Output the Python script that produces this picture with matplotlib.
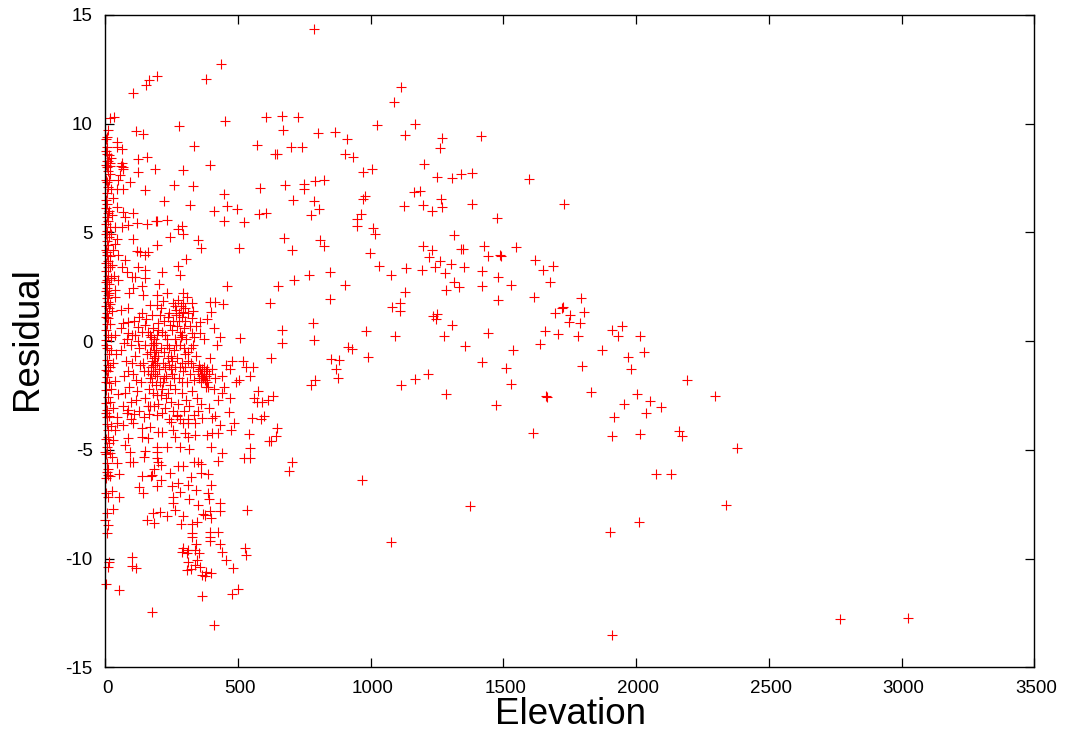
import matplotlib
matplotlib.use("Agg")
import matplotlib.pyplot as plt
from matplotlib.transforms import ScaledTranslation

# (elevation, residual)
far_points = [
    (2767, -12.78), (3023, -12.74), (1908, -13.52), (2381, -4.93), (2338, -7.54), (2296, -2.51),
    (2191, -1.81), (2173, -4.35), (2160, -4.14), (2130, -6.1), (2092, -3.03), (2075, -6.1),
    (2053, -2.76), (2037, -3.33), (2031, -0.49), (2013, 0.21), (2013, -4.26), (2011, -8.32),
    (2002, -2.42), (1979, -1.3), (1969, -0.72), (1954, -2.9), (1948, 0.7), (1933, 0.21),
    (1915, -3.48), (1909, -4.35), (1908, 0.5), (1901, -8.8), (1870, -0.41), (1828, -2.33),
    (1802, 1.35), (1797, -1.15), (1792, 1.98), (1788, 0.84), (1780, 0.21), (1752, 1.2),
    (1747, 0.89), (1729, 6.31), (1724, 1.55), (1720, 1.5), (1707, 0.32), (1695, 1.3),
    (1688, 3.43), (1674, 2.71), (1663, -2.56), (1660, -2.54), (1655, 0.47), (1649, 3.27),
    (1638, -0.15), (1619, 3.71), (1616, 2.04), (1610, -4.21), (1596, 7.43), (1547, 4.31),
    (1536, -0.43), (1529, -1.96), (1528, 2.58), (1510, -1.24), (1489, 3.93), (1487, 3.95),
    (1480, 1.87), (1478, 2.93), (1474, 5.64), (1471, -2.93), (1440, 3.91), (1440, 0.38),
    (1426, 4.37), (1421, 2.55), (1420, 3.24), (1420, -0.95), (1416, 9.43), (1382, 7.71),
    (1382, 6.29), (1375, -7.59), (1357, -0.25), (1353, 3.4), (1346, 4.22), (1341, 4.22),
    (1341, 7.66), (1333, 2.5), (1312, 4.86), (1312, 2.73), (1307, 7.51), (1307, 0.74),
    (1303, 3.53), (1285, 2.36), (1283, -2.45), (1281, 3.11), (1277, 0.21), (1267, 9.32),
    (1267, 6.18), (1264, 6.53), (1262, 8.86), (1261, 3.68), (1249, 7.53), (1248, 1.24),
    (1247, 1.03), (1244, 3.39), (1234, 1.17), (1232, 6.0), (1232, 4.19), (1218, 3.88),
    (1216, -1.5), (1200, 8.12), (1198, 6.24), (1198, 4.37), (1194, 3.28), (1187, 6.88),
    (1168, 10.0), (1168, -1.73), (1164, 6.85), (1133, 3.34), (1130, 9.47), (1129, 2.27),
    (1126, 6.22), (1115, 11.66), (1113, -2.02), (1111, 1.75), (1111, 1.38), (1091, 0.21),
    (1086, 11.0), (1080, 1.58), (1076, 3.04), (1078, -9.26), (1032, 3.46), (1025, 9.92),
    (1015, 4.9), (1010, 5.18), (1006, 7.89), (997, 4.03), (989, -0.74), (984, 0.48),
    (978, 6.67), (971, 7.79), (971, 6.52), (968, -6.41), (962, 5.83), (949, 5.61),
    (949, 5.3), (932, 8.48), (930, -0.37), (915, -0.29), (912, 9.27), (904, 8.6),
    (902, 2.58), (879, -0.87), (878, -1.69), (871, -1.29), (864, 9.6), (851, -0.83),
    (848, 1.92), (846, 3.16), (825, 7.4), (824, 4.37), (807, 4.65), (804, 6.09),
    (800, 9.55), (789, 7.36), (789, -1.79), (787, 14.35), (787, 6.45), (786, 0.06),
    (784, 0.84), (776, 5.78), (775, -2.02), (768, 3.05), (748, 7.22), (748, 7.0),
    (740, 8.94), (725, 10.29), (711, 2.82), (706, 6.48), (704, 4.18), (704, -5.56),
    (698, 8.9), (693, -5.98), (676, 7.17), (673, 4.75), (671, 9.7), (667, 10.35),
    (667, -0.09), (665, 0.52), (652, 2.55), (648, -4.0), (647, 8.58), (644, -4.38),
    (630, -2.51), (623, -0.8), (623, -4.6), (620, 1.76), (616, -4.58),
]

sparse_left = [
    (605, 10.3), (605, 5.87), (598, -3.45), (585, -3.59), (584, 7.02), (578, 5.82), (573, 9.0),
    (638, 8.6), (551, -3.56), (546, -4.94), (546, -5.39), (542, -4.29), (532, -7.79),
    (531, -9.84), (527, -9.53), (522, -5.39), (521, 5.47), (507, 0.12), (502, 4.28),
    (501, -11.39), (497, 6.06), (486, -3.75), (481, -10.42), (477, -11.62), (473, -4.09),
    (467, -3.25), (460, 6.19), (457, 2.55), (454, -10.07), (451, 10.13), (449, 6.74),
    (446, 5.53), (444, 1.69), (441, -9.72), (441, -5.13), (437, 12.72), (432, -9.32),
    (432, -7.8), (432, -3.86), (432, 0.17), (431, -7.43), (426, -8.77), (426, -5.53),
    (426, -4.22), (413, 1.81), (413, -3.45), (411, 5.98), (409, -13.07), (409, 0.61),
    (401, -4.22), (401, -3.56), (400, 1.32), (400, -10.68), (398, -8.12), (398, -6.62),
    (398, -4.86), (395, 8.11), (394, 1.81), (394, -9.2), (394, -9.0), (394, -8.77),
    (394, -7.82), (392, -7.28), (388, -6.97), (388, -6.1), (382, -4.32), (379, 12.06),
    (379, -10.6), (375, -10.8), (375, -8.0), (369, -7.95), (365, -3.56), (363, -11.74),
    (363, -10.76), (360, -6.08), (359, 4.28), (359, -5.63), (358, -10.38), (357, 0.89),
    (357, 0.35), (353, -9.76), (350, -5.55), (348, 4.65), (348, -7.54), (344, -10.07),
    (344, -8.3), (343, -6.83), (342, -9.33), (338, -10.3), (338, -9.61), (338, -4.32),
    (338, -3.79), (335, 8.98), (333, -5.55), (330, 7.14), (328, -9.0), (325, 1.73),
    (325, 1.04), (325, 0.38), (325, -8.84), (325, -8.42), (322, -10.48), (321, -6.27),
    (319, 6.27), (316, -4.98), (314, -7.28), (313, -10.15), (313, -9.61), (313, -6.62),
    (313, -4.4), (313, -3.79), (306, 2.01), (306, -10.53), (306, -9.76), (303, 3.76),
    (300, -4.25), (294, 4.92), (294, 7.88), (294, 2.22), (294, 1.73), (294, 1.35),
    (294, -9.53), (294, -3.79), (291, -8.05), (291, -5.75), (290, -9.69), (288, 5.29),
    (288, 0.28), (284, -8.43), (282, 3.04), (281, -4.86), (280, -6.96), (277, 9.89),
    (275, 5.14), (275, 3.45), (275, -6.54), (275, -5.75), (272, -3.45), (268, 1.43),
    (268, 1.2), (262, -7.77), (262, -4.4), (260, 7.16), (256, 1.73), (256, -7.43),
    (256, -7.16), (256, -4.1), (250, -6.65), (247, -3.71), (244, 0.74), (244, -6.08),
    (242, 4.8), (237, 1.12), (231, 5.57), (231, 2.19), (231, -8.03), (231, -4.89),
    (225, 0.28), (221, 6.44), (218, 1.86), (215, 3.16), (212, -4.2), (208, -6.39),
    (208, -5.7), (206, -7.85), (203, 2.62), (200, 0.81), (200, 0.51), (200, -5.58),
    (200, -4.2), (196, -6.65), (195, 12.19), (193, 5.53), (193, 4.43), (193, 2.12),
    (193, 1.66), (193, -4.86), (193, -5.09), (193, -5.39), (190, 5.53), (187, 7.93),
    (185, -5.86), (183, -8.35), (181, -7.92), (177, -6.16), (175, -12.44), (175, 1.2),
    (172, -6.19), (168, 1.66), (168, 0.28), (168, -3.97), (166, -3.36), (164, 12.0),
    (162, 4.11), (162, -4.48), (158, 8.45), (158, 5.38), (156, -8.23), (152, 11.79),
    (149, 6.93), (149, 3.96), (149, 3.27), (149, 2.88), (149, 0.74), (149, -5.06),
    (146, -5.35), (143, 2.12), (141, 9.52), (141, -7.0), (137, 2.53), (137, 1.27),
    (137, -4.4), (137, -4.0), (137, -6.21), (131, 4.08), (128, -6.7), (124, 8.38),
    (124, 7.79), (124, 3.42), (124, 0.66), (118, 5.41), (118, 4.15), (117, 9.67),
    (114, -10.45), (112, 2.96), (112, 0.28), (109, -3.36), (105, 11.42), (105, 2.42),
    (105, -3.79), (105, -5.55), (103, 5.9), (103, 4.71), (99, 2.96), (99, -9.92),
    (99, -10.35), (93, -5.12), (93, -5.58), (92, 7.31), (90, 2.19),
]

dense_cluster = [
    (60, -0.4), (78, -0.9), (95, -0.2), (112, -0.7), (128, -0.3), (142, -1.0), (158, -0.6),
    (172, -0.2), (176, -0.9), (180, -1.4), (184, -0.5), (188, -1.1), (192, -0.1), (198, -0.7),
    (204, -1.3), (210, -0.3), (216, -1.0), (222, -0.5), (228, -1.6), (234, -0.2), (240, -1.1),
    (246, -0.7), (252, -1.5), (258, -0.4), (264, -1.2), (270, -0.8), (276, -1.7), (282, -0.2),
    (288, -1.0), (294, -1.4), (300, -0.6), (306, -1.9), (312, -0.9), (318, -1.5), (324, -0.3),
    (330, -1.2), (336, -1.8), (342, -0.7), (348, -1.4), (354, -1.7), (360, -1.5), (366, -1.3),
    (372, -1.6), (378, -1.4), (384, -1.9), (390, -1.5), (396, -0.8), (402, -1.3), (412, -1.7),
    (422, -0.2), (438, -1.6), (446, -2.1), (455, -1.1), (468, -1.3), (478, -0.9), (492, -1.9),
    (505, -1.8), (520, -0.9), (530, -1.2), (560, -2.6), (570, -2.8), (575, -2.3), (545, -1.6),
    (555, -1.2), (592, -2.8), (612, -2.7), (70, -1.6), (88, -2.1), (104, -1.5), (120, -2.3),
    (135, -1.9), (150, -2.6), (165, -2.2), (172, -1.5), (180, -2.4), (190, -2.0), (200, -2.9),
    (210, -2.5), (218, -1.9), (226, -3.1), (236, -2.4), (248, -2.8), (262, -2.2), (274, -2.9),
    (288, -2.4), (304, -2.7), (316, -3.0), (328, -2.3), (345, -2.6), (362, -2.9), (378, -2.1),
    (392, -3.1), (410, -2.2), (425, -2.7), (440, -2.4), (468, -2.6), (66, -3.0), (82, -3.3),
    (98, -2.8), (128, -3.2), (145, -3.5), (170, -3.0), (195, -3.4), (215, -3.3), (240, -3.6),
    (270, -3.4), (295, -3.2), (350, -3.2), (60, 0.6), (80, 0.1), (110, 0.9), (128, 1.1),
    (140, 0.4), (155, 1.0), (178, 0.6), (185, 0.1), (205, 1.2), (214, 0.4), (222, 0.9),
    (232, 0.1), (250, 0.5), (256, 0.9), (262, 0.1), (270, 0.7), (276, 1.3), (282, 0.4),
    (300, 0.9), (305, 0.1), (312, 1.3), (336, 0.2), (342, 0.7), (372, 0.1), (385, 1.0),
    (170, -0.5), (174, -1.2), (178, -0.2), (182, -0.8), (186, -1.5), (190, -0.4), (194, -1.0),
    (168, -1.7), (176, -1.9), (183, -0.1), (196, -1.6), (172, 0.2), (180, -1.1), (188, -0.7),
    (284, 1.6), (290, 1.1), (296, 0.6), (278, 0.9), (286, 0.2), (302, 1.5), (274, 1.9),
    (264, 1.6), (318, 0.7), (296, -0.3), (330, -0.2), (352, -1.1), (360, -1.9), (368, -1.7),
    (376, -1.8), (370, -1.2), (364, -1.6), (380, -1.6), (385, -1.3), (388, -2.1), (356, -1.3),
    (240, -0.3), (246, -1.3), (236, -0.8), (252, -0.9), (226, -1.2), (220, -1.7), (160, -1.4),
    (150, -0.2), (146, -1.4), (130, -1.1), (116, -1.8), (100, -1.0), (85, -1.4), (72, -0.1),
    (300, -1.2), (310, -0.5), (322, -1.0), (290, -1.9), (280, -1.2), (268, -0.2), (260, -1.7),
    (215, -2.2), (230, -2.6), (245, -2.0), (205, -1.9), (195, -2.5), (185, -3.0), (160, -3.0),
    (115, -2.7), (95, -3.6), (75, -2.4), (255, -3.2), (280, -3.6), (310, -3.6), (335, -3.4),
    (195, 0.3), (160, 0.4), (125, 0.0), (100, 0.3), (210, 1.5), (240, 1.3), (330, 1.4),
]

near_axis = [
    (3, 9.3), (6, 9.37), (11, 9.7), (16, 10.24), (34, 10.28), (45, 9.15), (43, 8.94), (62, 8.84),
    (4, 8.75), (8, 8.6), (14, 8.55), (20, 8.4), (5, 8.3), (12, 8.3), (18, 8.05), (6, 8.0),
    (62, 8.17), (68, 8.0), (58, 8.05), (65, 7.9), (55, 7.63), (49, 7.4), (18, 7.7), (3, 7.4),
    (10, 7.1), (43, 7.0), (68, 7.0), (5, 6.8), (30, 6.56), (43, 6.18), (11, 5.87), (5, 5.7),
    (18, 5.26), (36, 5.26), (62, 5.26), (87, 5.33), (75, 5.72), (68, 5.95), (3, 5.4), (8, 5.05),
    (14, 4.8), (5, 4.6), (11, 4.4), (2, 4.2), (45, 4.7), (36, 4.45), (6, 3.95), (12, 3.7),
    (18, 3.4), (4, 3.2), (10, 3.0), (49, 3.96), (75, 3.73), (62, 3.42), (80, 3.19), (49, 2.8),
    (25, 3.5), (32, 3.0), (3, 2.7), (8, 2.45), (14, 2.2), (5, 2.0), (11, 1.8), (2, 1.6),
    (36, 2.35), (36, 2.04), (87, 1.5), (61, 1.43), (87, 0.86), (68, 0.81), (6, 1.3), (12, 1.05),
    (18, 0.8), (4, 0.5), (10, 0.3), (25, 1.4), (36, 0.28), (87, 0.35), (3, 0.05), (8, -0.3),
    (14, -0.6), (5, -0.85), (11, -1.1), (2, -1.35), (22, -0.4), (30, -1.0), (42, -0.6), (7, -1.65),
    (13, -1.95), (4, -2.25), (10, -2.55), (20, -2.2), (35, -1.85), (48, -2.45), (3, -2.85),
    (8, -3.15), (14, -3.45), (30, -3.1), (45, -3.5), (5, -3.8), (11, -4.1), (37, -4.1), (43, -3.79),
    (68, -3.86), (87, -3.17), (30, -4.55), (74, -4.78), (87, -4.48), (2, -4.5), (8, -4.85),
    (0, -5.12), (18, -5.17), (24, -5.32), (5, -5.6), (43, -5.6), (11, -5.86), (11, -6.16),
    (52, -6.13), (3, -6.3), (53, -7.16), (24, -6.88), (11, -7.16), (30, -7.74), (5, -7.92),
    (0, -8.23), (9, -8.46), (5, -8.84), (15, -10.15), (11, -10.4), (51, -11.46), (4, -11.16),
    (7, 8.9), (16, 8.2), (2, 8.1), (9, 7.8), (14, 7.4), (6, 7.3), (22, 7.0), (1, 6.5),
    (8, 6.3), (15, 6.0), (3, 6.1), (25, 5.8), (10, 5.5), (20, 4.9), (1, 4.9), (28, 4.2),
    (7, 4.1), (16, 3.9), (2, 3.6), (9, 3.4), (22, 2.9), (6, 2.8), (15, 2.6), (1, 2.3),
    (9, 2.1), (18, 1.7), (3, 1.1), (14, 1.5), (7, 0.8), (20, 0.2), (1, -0.2), (16, -1.2),
    (9, -1.4), (3, -1.9), (18, -2.8), (6, -3.5), (1, -3.3), (20, -3.9), (9, -4.4), (15, -4.7),
    (4, -5.2), (7, -6.0), (16, -6.2), (2, -7.0),
]

x_ticks = [0, 500, 1000, 1500, 2000, 2500, 3000, 3500]
y_ticks = [-15, -10, -5, 0, 5, 10, 15]


def split(points):
    return [p[0] for p in points], [p[1] for p in points]


plt.rcParams["font.family"] = ["Liberation Sans", "DejaVu Sans"]
plt.rcParams["axes.unicode_minus"] = False

fig = plt.figure(figsize=(10.68, 7.34), dpi=100)
ax = fig.add_axes([105.3 / 1068, 1 - 667.3 / 734, 929 / 1068, 652.5 / 734])

for group in [far_points, sparse_left, dense_cluster, near_axis]:
    xs, ys = split(group)
    line, = ax.plot(xs, ys, "+", color="#ff0000", ms=7.5, mew=0.8, clip_on=False)
    line.set_snap(False)

ax.set_xlim(0, 3500)
ax.set_ylim(-15, 15)
ax.set_xticks(x_ticks)
ax.set_yticks(y_ticks)
ax.tick_params(direction="in", length=6.5, width=0.9, labelsize=13.5, top=True, right=True)
ax.tick_params(axis="x", pad=9.5)
ax.tick_params(axis="y", pad=9)
for spine in ax.spines.values():
    spine.set_linewidth(1.0)

# gnuplot leaves the x labels a touch right of their ticks
nudge = ScaledTranslation(2 / 100, 0, fig.dpi_scale_trans)
for label in ax.get_xticklabels():
    label.set_transform(label.get_transform() + nudge)

fig.text(570 / 1068, 1 - 715 / 734, "Elevation", fontsize=26.5, ha="center", va="center")
fig.text(28 / 1068, 1 - 339 / 734, "Residual", fontsize=26.5, rotation=90, ha="center", va="center")

fig.savefig("out.png", dpi=100)
